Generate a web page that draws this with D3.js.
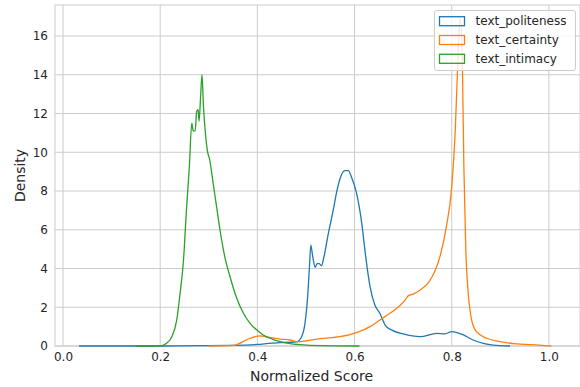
<!DOCTYPE html>
<html>
<head>
<meta charset="utf-8">
<script src="https://cdn.jsdelivr.net/npm/d3@7"></script>
<style>
  body { margin: 0; background: #fff; }
  svg { display: block; font-family: "DejaVu Sans", sans-serif; }
</style>
</head>
<body>
<svg width="580" height="387"></svg>
<script>
// series names, colours and tick labels
var seriesNames = ["text_politeness", "text_certainty", "text_intimacy"];
var seriesColors = ["#1f77b4", "#ff7f0e", "#2ca02c"];
var xTicks = [0, 0.2, 0.4, 0.6, 0.8, 1.0];
var yTicks = [0, 2, 4, 6, 8, 10, 12, 14, 16];

// density curves (score, density)
var politenessX = [0.033, 0.20, 0.35, 0.40, 0.43, 0.447, 0.481, 0.491, 0.498, 0.503, 0.507, 0.510, 0.514, 0.519, 0.523, 0.527, 0.532, 0.537, 0.546, 0.556, 0.564, 0.571, 0.580, 0.587, 0.594, 0.604, 0.615, 0.623, 0.632, 0.642, 0.652, 0.663, 0.676, 0.700, 0.735, 0.769, 0.786, 0.800, 0.824, 0.844, 0.865, 0.885, 0.92];
var politenessY = [0, 0, 0.03, 0.08, 0.15, 0.17, 0.22, 0.48, 1.17, 2.37, 4.0, 5.2, 4.6, 4.07, 4.25, 4.25, 4.15, 4.6, 5.8, 7.0, 8.05, 8.7, 9.05, 9.05, 8.7, 7.9, 6.3, 4.6, 3.05, 2.1, 1.69, 1.08, 0.83, 0.62, 0.48, 0.65, 0.63, 0.74, 0.57, 0.31, 0.14, 0.05, 0];

var certaintyX = [0.30, 0.35, 0.385, 0.405, 0.425, 0.447, 0.467, 0.484, 0.501, 0.529, 0.570, 0.604, 0.632, 0.652, 0.673, 0.693, 0.704, 0.711, 0.721, 0.735, 0.752, 0.765, 0.776, 0.789, 0.800, 0.807, 0.811, 0.815, 0.818, 0.822, 0.825, 0.829, 0.834, 0.841, 0.851, 0.872, 0.899, 0.940, 0.981, 1.005];
var certaintyY = [0, 0.03, 0.4, 0.52, 0.45, 0.36, 0.31, 0.22, 0.27, 0.38, 0.48, 0.69, 1.0, 1.34, 1.69, 2.08, 2.37, 2.6, 2.68, 2.89, 3.27, 3.84, 4.64, 6.16, 8.2, 11.0, 13.6, 16.1, 16.9, 14.4, 9.25, 4.95, 2.72, 1.34, 0.74, 0.4, 0.22, 0.1, 0.05, 0];

var intimacyX = [0.15, 0.189, 0.203, 0.213, 0.224, 0.234, 0.241, 0.248, 0.254, 0.260, 0.265, 0.268, 0.272, 0.275, 0.278, 0.280, 0.283, 0.286, 0.289, 0.292, 0.297, 0.302, 0.309, 0.316, 0.323, 0.333, 0.344, 0.357, 0.371, 0.385, 0.399, 0.412, 0.426, 0.447, 0.467, 0.488, 0.529, 0.61];
var intimacyY = [0, 0, 0.02, 0.14, 0.48, 1.34, 2.72, 4.44, 7.0, 9.25, 11.5, 11.1, 11.1, 12.1, 12.2, 11.6, 12.8, 14.0, 12.4, 11.3, 10.1, 9.6, 8.4, 7.2, 6.0, 4.6, 3.55, 2.5, 1.7, 1.17, 0.82, 0.57, 0.4, 0.22, 0.12, 0.07, 0.02, 0];

var seriesX = [politenessX, certaintyX, intimacyX];
var seriesY = [politenessY, certaintyY, intimacyY];

var svg = d3.select("svg");
var plotLeft = 55, plotRight = 580, plotTop = 5, plotBottom = 346;
var textColor = "#262626", gridColor = "#cccccc";

var x = d3.scaleLinear().domain([-0.0165, 1.064]).range([plotLeft, plotRight]);
var y = d3.scaleLinear().domain([0, 17.6]).range([plotBottom, plotTop]);

// grid
svg.append("g").selectAll("line").data(xTicks).enter().append("line")
    .attr("x1", function (d) { return x(d); }).attr("x2", function (d) { return x(d); })
    .attr("y1", plotTop).attr("y2", plotBottom)
    .attr("stroke", gridColor).attr("stroke-width", 1);
svg.append("g").selectAll("line").data(yTicks).enter().append("line")
    .attr("x1", plotLeft).attr("x2", plotRight)
    .attr("y1", function (d) { return y(d); }).attr("y2", function (d) { return y(d); })
    .attr("stroke", gridColor).attr("stroke-width", 1);

// frame (whitegrid spines)
svg.append("rect")
    .attr("x", plotLeft).attr("y", plotTop)
    .attr("width", plotRight - plotLeft).attr("height", plotBottom - plotTop)
    .attr("fill", "none").attr("stroke", gridColor).attr("stroke-width", 1);

// axes
var xAxis = svg.append("g")
    .attr("transform", "translate(0," + plotBottom + ")")
    .call(d3.axisBottom(x).tickValues(xTicks).tickSize(0).tickPadding(6).tickFormat(d3.format(".1f")));
var yAxis = svg.append("g")
    .attr("transform", "translate(" + plotLeft + ",0)")
    .call(d3.axisLeft(y).tickValues(yTicks).tickSize(0).tickPadding(7).tickFormat(d3.format("d")));
[xAxis, yAxis].forEach(function (a) {
  a.select(".domain").remove();
  a.selectAll("text").attr("fill", textColor).style("font-size", "12px").style("font-family", "DejaVu Sans");
});

// curves
var line = d3.line()
    .x(function (d) { return x(d[0]); })
    .y(function (d) { return y(d[1]); })
    .curve(d3.curveMonotoneX);

seriesNames.forEach(function (name, i) {
  var pts = seriesX[i].map(function (v, j) { return [v, seriesY[i][j]]; });
  svg.append("path")
      .datum(pts)
      .attr("d", line)
      .attr("fill", "none")
      .attr("stroke", seriesColors[i])
      .attr("stroke-width", 1.3)
      .attr("stroke-linejoin", "round");
});

// axis labels
svg.append("text")
    .attr("x", (plotLeft + plotRight) / 2 - 6).attr("y", 381)
    .attr("text-anchor", "middle")
    .attr("fill", textColor).style("font-size", "14px")
    .text("Normalized Score");
svg.append("text")
    .attr("transform", "translate(25," + ((plotTop + plotBottom) / 2) + ") rotate(-90)")
    .attr("text-anchor", "middle")
    .attr("fill", textColor).style("font-size", "14px")
    .text("Density");

// legend
var legend = svg.append("g");
legend.append("rect")
    .attr("x", 434.5).attr("y", 10.5).attr("width", 141).attr("height", 60).attr("rx", 2.5)
    .attr("fill", "#fff").attr("fill-opacity", 0.8)
    .attr("stroke", gridColor).attr("stroke-width", 1);
seriesNames.forEach(function (name, i) {
  var cy = 21.2 + i * 18.8;
  legend.append("rect")
      .attr("x", 439.5).attr("y", cy - 4.5).attr("width", 25).attr("height", 9)
      .attr("fill", "none").attr("stroke", seriesColors[i]).attr("stroke-width", 1.3);
  legend.append("text")
      .attr("x", 475.5).attr("y", cy).attr("dy", "0.35em")
      .attr("fill", textColor).style("font-size", "12px")
      .text(name);
});
</script>
</body>
</html>
